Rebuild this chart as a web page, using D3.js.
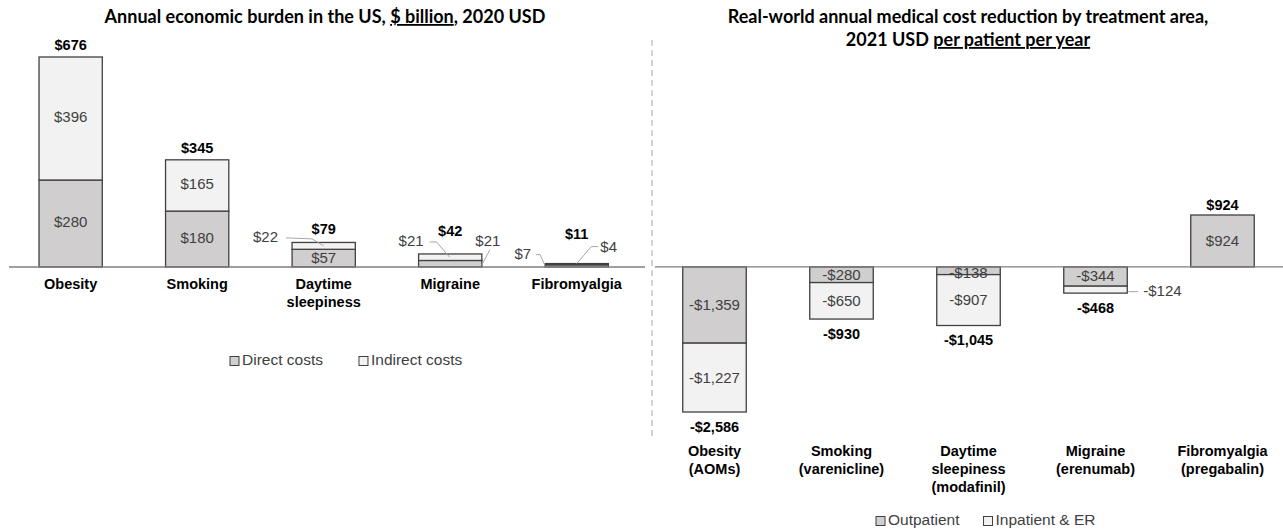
<!DOCTYPE html>
<html>
<head>
<meta charset="utf-8">
<script src="https://cdn.jsdelivr.net/npm/d3@7"></script>
<style>
	body { margin: 0; background: #fff; }
	svg text { font-family: "Liberation Sans", Arial, sans-serif; }
	.title { font-family: Lato, "Open Sans", sans-serif; font-weight: bold; font-size: 18px; fill: #000; }
</style>
</head>
<body>
<div id="svg-container"></div>
<script>

// left chart: annual economic burden, $ billion
var burdenCats = ['Obesity', 'Smoking', 'Daytime\nsleepiness', 'Migraine', 'Fibromyalgia'];
var directCosts = [280, 180, 57, 21, 7];
var indirectCosts = [396, 165, 22, 21, 4];
var burdenTotals = [676, 345, 79, 42, 11];

// right chart: cost reduction per patient per year
var reductionCats = ['Obesity\n(AOMs)', 'Smoking\n(varenicline)', 'Daytime\nsleepiness\n(modafinil)', 'Migraine\n(erenumab)', 'Fibromyalgia\n(pregabalin)'];
var outpatient = [-1359, -280, -138, -344, 924];
var inpatient = [-1227, -650, -907, -124, 0];
var reductionTotals = [-2586, -930, -1045, -468, 924];

var width = 1283;
var height = 531;
var baseY = 267;
var darkFill = '#d0cece';
var lightFill = '#f2f2f2';
var barStroke = '#404040';

var svg = d3.select('#svg-container')
	.append('svg')
	.attr('width', width)
	.attr('height', height);

var fmtB = function(v) { return '$' + v; };
var fmtR = function(v) { return (v < 0 ? '-$' : '$') + d3.format(',')(Math.abs(v)); };

// scales
var xLeft = d3.scaleBand().domain(burdenCats).range([7.4, 640]).paddingInner(0.5).paddingOuter(0.25);
var yLeft = d3.scaleLinear().domain([0, 676]).range([baseY, 57]);

var xRight = d3.scaleBand().domain(reductionCats).range([651, 1286]).paddingInner(0.5).paddingOuter(0.25);
var yRight = d3.scaleLinear().domain([-2586, 924]).range([412, 215]);

// titles
var t1 = svg.append('text').attr('class', 'title').attr('x', 325).attr('y', 23).attr('text-anchor', 'middle');
t1.append('tspan').text('Annual economic burden in the US, ');
t1.append('tspan').attr('text-decoration', 'underline').text('$ billion');
t1.append('tspan').text(', 2020 USD');

svg.append('text').attr('class', 'title').attr('x', 968).attr('y', 23).attr('text-anchor', 'middle')
	.text('Real-world annual medical cost reduction by treatment area,');
var t2 = svg.append('text').attr('class', 'title').attr('x', 968).attr('y', 46).attr('text-anchor', 'middle');
t2.append('tspan').text('2021 USD ');
t2.append('tspan').attr('text-decoration', 'underline').text('per patient per year');

// divider
svg.append('line')
	.attr('x1', 652).attr('x2', 652).attr('y1', 40).attr('y2', 436)
	.attr('stroke', '#a6a6a6').attr('stroke-width', 1).attr('stroke-dasharray', '6,4');

function addSeg(x, y0, y1, w, fill) {
	svg.append('rect')
		.attr('x', x).attr('y', Math.min(y0, y1))
		.attr('width', w).attr('height', Math.abs(y1 - y0))
		.attr('fill', fill).attr('stroke', barStroke).attr('stroke-width', 1.3);
}

function label(x, y, txt, bold, anchor) {
	return svg.append('text')
		.attr('x', x).attr('y', y)
		.attr('text-anchor', anchor || 'middle')
		.attr('dominant-baseline', 'middle')
		.attr('font-size', bold ? '14.5px' : '15px')
		.attr('font-weight', bold ? 'bold' : 'normal')
		.attr('fill', bold ? '#000' : '#404040')
		.text(txt);
}

function leader(points) {
	svg.append('path')
		.attr('d', d3.line()(points))
		.attr('fill', 'none').attr('stroke', '#a6a6a6').attr('stroke-width', 1);
}

function catLabels(xs, cats, y0) {
	cats.forEach(function(c) {
		var t = svg.append('text')
			.attr('x', xs(c) + xs.bandwidth() / 2)
			.attr('y', y0)
			.attr('text-anchor', 'middle')
			.attr('font-size', '14.5px').attr('font-weight', 'bold').attr('fill', '#000');
		c.split('\n').forEach(function(line, i) {
			t.append('tspan').attr('x', xs(c) + xs.bandwidth() / 2).attr('dy', i === 0 ? 0 : 18).text(line);
		});
	});
}

////////////////////////////////////////////////////////////////////
// left bars
var bwL = xLeft.bandwidth();
burdenCats.forEach(function(c, i) {
	var x = xLeft(c);
	var cx = x + bwL / 2;
	var y0 = yLeft(0);
	var yd = yLeft(directCosts[i]);
	var yt = yLeft(directCosts[i] + indirectCosts[i]);
	addSeg(x, y0, yd, bwL, darkFill);
	addSeg(x, yd, yt, bwL, lightFill);

	if (i < 2) {
		label(cx, yt - 11, fmtB(burdenTotals[i]), true);
		label(cx, (y0 + yd) / 2, fmtB(directCosts[i]));
		label(cx, (yd + yt) / 2, fmtB(indirectCosts[i]));
	} else if (i === 2) {
		label(cx, yt - 12, fmtB(burdenTotals[i]), true);
		label(cx, (y0 + yd) / 2 + 1, fmtB(directCosts[i]));
		label(x - 14, (yd + yt) / 2 - 8, fmtB(indirectCosts[i]), false, 'end');
		leader([[x - 6, (yd + yt) / 2 - 8], [x + 20, (yd + yt) / 2 - 7], [cx, (yd + yt) / 2]]);
	} else if (i === 3) {
		label(cx, yt - 22, fmtB(burdenTotals[i]), true);
		label(x + 5, yt - 12, fmtB(indirectCosts[i]), false, 'end');
		leader([[x + 11, yt - 12], [x + 18, yt - 12], [x + 31, (yd + yt) / 2]]);
		label(x + bwL + 6, yt - 12, fmtB(directCosts[i]), false, 'middle');
		leader([[x + bwL + 8, yt - 4], [x + bwL, (y0 + yd) / 2 + 1]]);
	} else {
		label(cx, yt - 28, fmtB(burdenTotals[i]), true);
		label(x - 14, yt - 9, fmtB(directCosts[i]), false, 'end');
		leader([[x - 9, yt - 9], [x - 5, yt - 9], [x, (y0 + yd) / 2]]);
		label(x + bwL - 8, yt - 16, fmtB(indirectCosts[i]), false, 'start');
		leader([[x + bwL - 10, yt - 17], [x + bwL - 17, yt - 17], [cx, yt]]);
	}
});

svg.append('line')
	.attr('x1', 9).attr('x2', 645).attr('y1', yLeft(0)).attr('y2', yLeft(0))
	.attr('stroke', '#7f7f7f').attr('stroke-width', 1.3);

catLabels(xLeft, burdenCats, 289);

// right bars
var bwR = xRight.bandwidth();
reductionCats.forEach(function(c, i) {
	var x = xRight(c);
	var cx = x + bwR / 2;
	var yo = yRight(outpatient[i]);
	var yi = yRight(outpatient[i] + inpatient[i]);
	addSeg(x, yRight(0), yo, bwR, darkFill);
	if (inpatient[i] !== 0) addSeg(x, yo, yi, bwR, lightFill);

	if (reductionTotals[i] < 0) {
		label(cx, yi + 16, fmtR(reductionTotals[i]), true);
	} else {
		label(cx, yi - 9, fmtR(reductionTotals[i]), true);
	}

	if (i === 2) {
		label(cx, yo - 1, fmtR(outpatient[i]));
	} else {
		label(cx, (yRight(0) + yo) / 2 + 1, fmtR(outpatient[i]));
	}
	if (inpatient[i] !== 0) {
		if (i === 3) {
			label(x + bwR + 16, (yo + yi) / 2 + 2, fmtR(inpatient[i]), false, 'start');
			leader([[x + bwR + 1, (yo + yi) / 2 + 2], [x + bwR + 11, (yo + yi) / 2 + 2]]);
		} else {
			label(cx, (yo + yi) / 2 + 1, fmtR(inpatient[i]));
		}
	}
});

svg.append('line')
	.attr('x1', 655).attr('x2', 1283).attr('y1', yRight(0)).attr('y2', yRight(0))
	.attr('stroke', '#7f7f7f').attr('stroke-width', 1.3);

catLabels(xRight, reductionCats, 456);

// legends
function legend(items, x0, y, gap) {
	var x = x0;
	items.forEach(function(d) {
		svg.append('rect')
			.attr('x', x).attr('y', y - 4.5).attr('width', 9).attr('height', 9)
			.attr('fill', d.fill).attr('stroke', barStroke).attr('stroke-width', 1);
		var t = svg.append('text')
			.attr('x', x + 12).attr('y', y)
			.attr('dominant-baseline', 'middle')
			.attr('font-size', '15.5px').attr('fill', '#404040')
			.text(d.name);
		x += 12 + t.node().getComputedTextLength() + gap;
	});
}

legend([{ name: 'Direct costs', fill: darkFill }, { name: 'Indirect costs', fill: lightFill }], 230, 361, 36);
legend([{ name: 'Outpatient', fill: darkFill }, { name: 'Inpatient & ER', fill: lightFill }], 876, 521, 24);

</script>
</body>
</html>
